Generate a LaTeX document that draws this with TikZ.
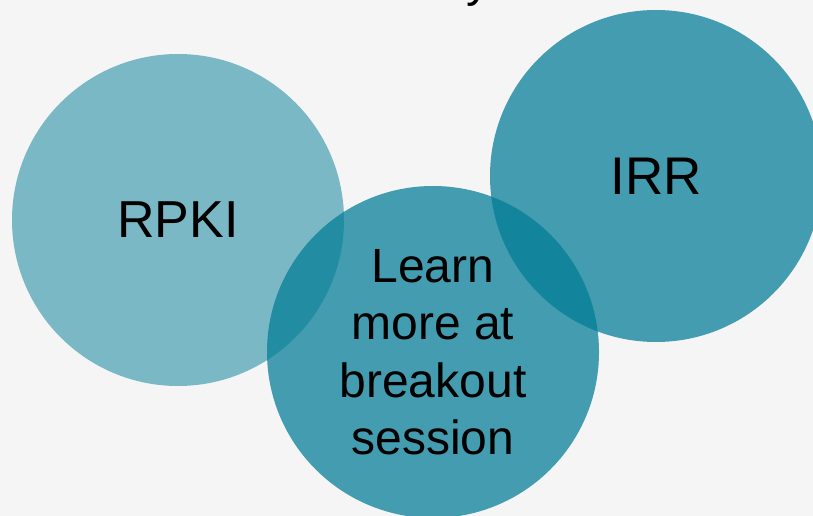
\documentclass[tikz,border=0pt]{standalone}
\usepackage{fontspec}
\setmainfont{Liberation Sans}
\definecolor{bgray}{HTML}{F5F5F5}
\definecolor{teal}{HTML}{017C96}
\tikzset{
  bubble/.style={circle,fill=teal,fill opacity=0.73,text opacity=1,
    minimum size=332pt,inner sep=0pt,align=center,text=black},
  pale/.style={bubble,fill opacity=0.5}
}
\begin{document}
\begin{tikzpicture}[x=1pt,y=1pt]
\useasboundingbox (0,0) rectangle (813,516);
\clip (0,0) rectangle (813,516);
\fill[bgray] (0,0) rectangle (813,516);
% cut-off title
\node[font=\fontsize{48}{57}\selectfont,anchor=base] (title) at (478,519) {y};
% the three circles
\node[pale,font=\fontsize{52}{62}\selectfont] (rpki) at (178,296) {RPKI};
\node[bubble,font=\fontsize{48}{57.5}\selectfont] (learn) at (433,164)
  {Learn\\more at\\breakout\\session};
\node[bubble,font=\fontsize{53}{63}\selectfont] (irr) at (656,340) {IRR};
\end{tikzpicture}
\end{document}
